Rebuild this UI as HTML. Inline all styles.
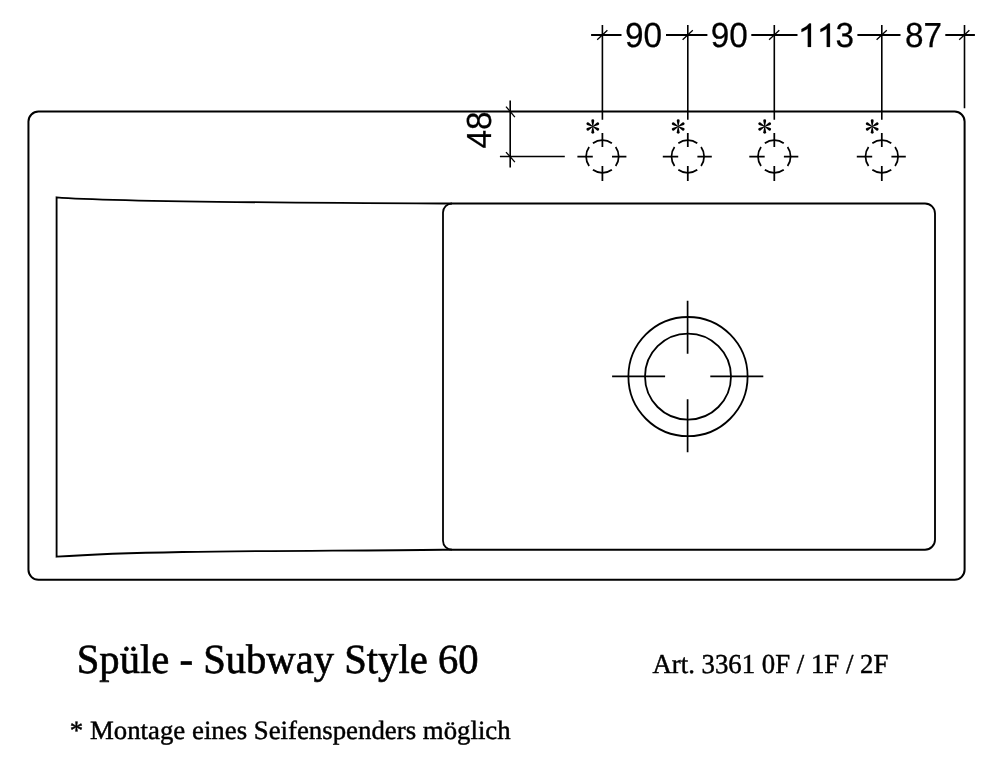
<!DOCTYPE html>
<html>
<head>
<meta charset="utf-8">
<style>
html,body{margin:0;padding:0;background:#fff;}
body{width:992px;height:763px;overflow:hidden;position:relative;}
svg{position:absolute;left:0;top:0;will-change:transform;}
</style>
</head>
<body>
<svg width="992" height="763" viewBox="0 0 992 763" text-rendering="geometricPrecision">
<g fill="none" stroke="#000" stroke-linecap="butt">
  <rect x="28.45" y="111.5" width="936.15" height="468.3" rx="10" ry="10" stroke-width="2"/>
  <path d="M56.6 197.3 C99.6 200.9 257.3 202.7 443 203.5 L925 203.5 A10 10 0 0 1 935 213.5 L935 539.7 A10 10 0 0 1 925 549.7 L443 549.7 C298.5 551.3 154.7 550.1 56.6 556.7 Z" stroke-width="1.85" stroke-linejoin="miter"/>
  <path d="M452 203.5 A9 9 0 0 0 443 212.5 L443 540.7 A9 9 0 0 0 452 549.7" stroke-width="1.8"/>
  
  <circle cx="688" cy="376.6" r="59.6" stroke-width="1.8"/>
  <circle cx="688" cy="376.6" r="43" stroke-width="1.8"/>
  <path d="M687.6 300.8 V353.7 M687.6 399.2 V452.2 M612.1 376.3 H665.1 M710.3 376.3 H763.3" stroke-width="1.7"/>
  <path d="M591.1 35 H621.5 M666 35 H707.4 M751.3 35 H797.5 M857.4 35 H900.5 M945.3 35 H974.9" stroke-width="1.85"/>
  <path d="M602.4 25 V119.7 M687.8 25 V119.7 M774.3 25 V119.7 M881.8 25 V119.7 M964.5 25 V108.2" stroke-width="1.6"/>
  <path d="M597.2 39.7 L607.4 30.3 M682.6 39.7 L692.8 30.3 M769.1 39.7 L779.3 30.3 M876.6 39.7 L886.8 30.3 M959.2 39.7 L969.4 30.3" stroke-width="1.3"/>
  <path d="M510.2 100.5 V167.6 M499.9 156.5 H564.8" stroke-width="1.6"/>
  <path d="M506 106.6 L514.9 117.2 M506 152.1 L514.9 162.1" stroke-width="1.3"/>
</g>
<defs>
  <g id="disp">
    <g fill="none" stroke="#000" stroke-width="1.75">
      <path d="M0 -23.6 V-9.6 M0 9.6 V24.5 M-25 0 H-9.6 M9.6 0 H24"/>
      <path d="M-9.47 -13.27 A16.3 16.3 0 0 1 9.47 -13.27 M13.27 -9.47 A16.3 16.3 0 0 1 13.27 9.47 M9.47 13.27 A16.3 16.3 0 0 1 -9.47 13.27 M-13.27 9.47 A16.3 16.3 0 0 1 -13.27 -9.47"/>
    </g>
    <g transform="translate(-9.6 -30)" fill="#000">
      <path id="arm" d="M-0.35 0 L-1.45 -5.7 A1.45 1.45 0 0 1 1.45 -5.7 L0.35 0 Z"/>
      <use href="#arm" transform="rotate(60)"/>
      <use href="#arm" transform="rotate(120)"/>
      <use href="#arm" transform="rotate(180)"/>
      <use href="#arm" transform="rotate(240)"/>
      <use href="#arm" transform="rotate(300)"/>
    </g>
  </g>
</defs>
<use href="#disp" x="602.4" y="156.5"/>
<use href="#disp" x="687.8" y="156.5"/>
<use href="#disp" x="774.3" y="156.5"/>
<use href="#disp" x="881.8" y="156.5"/>

<g font-family="Liberation Sans" font-size="34.8" fill="#000" stroke="#000" stroke-width="0.25">
  <text transform="translate(624.9 46.7) scale(0.957 1)">90</text>
  <text transform="translate(710.8 46.7) scale(0.957 1)">90</text>
  <text transform="translate(835.55 46.7) scale(0.957 1)">3</text>
  <path d="M811.00 46.9 H807.80 V28.5 C806.50 29.6 804.00 31.2 801.50 32 V29.1 C805.00 27.6 807.70 25.5 809.10 23.5 H811.00 Z M829.95 46.9 H826.75 V28.5 C825.45 29.6 822.95 31.2 820.45 32 V29.1 C823.95 27.6 826.65 25.5 828.05 23.5 H829.95 Z"/>
  <text transform="translate(905.05 46.7) scale(0.957 1)">87</text>
  <text transform="translate(491.35 148.47) rotate(-90) scale(0.957 1)">48</text>
</g>

<g font-family="Liberation Serif" fill="#000">
  <text transform="translate(76.76 672.7) scale(0.979 1)" font-size="41.5" stroke="#000" stroke-width="0.65">Spüle - Subway Style 60</text>
  <text transform="translate(652.47 672.7) scale(0.978 1)" font-size="27.4" stroke="#000" stroke-width="0.45">Art. 3361 0F / 1F / 2F</text>
  <text transform="translate(69.85 739.4) scale(1.016 1)" font-size="26.4" stroke="#000" stroke-width="0.45">* Montage eines Seifenspenders möglich</text>
</g>
</svg>
</body>
</html>
